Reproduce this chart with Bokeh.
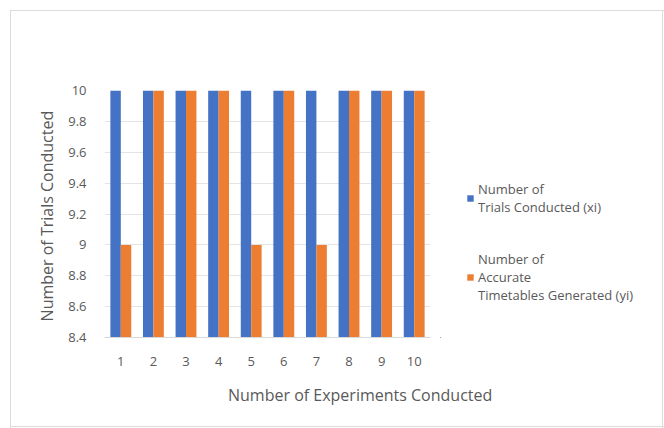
from bokeh.plotting import figure
from bokeh.layouts import row, column
from bokeh.models import FixedTicker, Legend, LegendItem, Div
from bokeh.transform import dodge
from bokeh.embed import file_html
from bokeh.resources import INLINE
from bokeh.models import ColumnDataSource

experiments = [1, 2, 3, 4, 5, 6, 7, 8, 9, 10]
trials = [10, 10, 10, 10, 10, 10, 10, 10, 10, 10]
accurate = [9, 10, 10, 10, 9, 10, 9, 10, 10, 10]
y_ticks = [8.4, 8.6, 8.8, 9.0, 9.2, 9.4, 9.6, 9.8, 10.0]
y_tick_labels = ["8.4", "8.6", "8.8", "9", "9.2", "9.4", "9.6", "9.8", "10"]
series_names = ["Number of\nTrials Conducted (xi)", "Number of\nAccurate\nTimetables Generated (yi)"]
x_title = "Number of Experiments Conducted"
y_title = "Number  of Trials Conducted"

BLUE = "#4472C4"
ORANGE = "#ED7D31"
GRAY = "#595959"
FONT = "Open Sans"

src = ColumnDataSource(dict(x=experiments, trials=trials, accurate=accurate))

p = figure(width=440, height=380, output_backend="svg", toolbar_location=None,
           x_range=(0.5, 10.5), y_range=(8.4, 10.0),
           min_border_left=104, min_border_right=10, min_border_top=90, min_border_bottom=43)
p.outline_line_color = None
p.background_fill_color = None
p.border_fill_color = None

p.vbar(x=dodge("x", -0.16, range=p.x_range), top="trials", bottom=8.4, width=0.32,
       source=src, fill_color=BLUE, line_color=None)
p.vbar(x=dodge("x", 0.16, range=p.x_range), top="accurate", bottom=8.4, width=0.32,
       source=src, fill_color=ORANGE, line_color=None)

p.xaxis.ticker = FixedTicker(ticks=experiments)
p.yaxis.ticker = FixedTicker(ticks=y_ticks)
p.yaxis.major_label_overrides = {t: l for t, l in zip(y_ticks, y_tick_labels)}
for ax in (p.xaxis[0], p.yaxis[0]):
    ax.major_tick_line_color = None
    ax.minor_tick_line_color = None
    ax.major_label_text_font = FONT
    ax.major_label_text_font_size = "13px"
    ax.major_label_text_color = GRAY
    ax.axis_label_text_font = FONT
    ax.axis_label_text_font_size = "16px"
    ax.axis_label_text_font_style = "normal"
    ax.axis_label_text_color = GRAY
p.yaxis.axis_line_color = None
p.xaxis.axis_line_color = "#d9d9d9"
p.yaxis.axis_label = y_title
p.xaxis.major_label_standoff = 13
p.yaxis.major_label_standoff = 12
p.yaxis.axis_label_standoff = 7

p.xgrid.grid_line_color = None
p.ygrid.grid_line_color = "#e4e4e4"

# legend panel: same series, drawn out of view so only the legend shows
pl = figure(width=224, height=380, output_backend="svg", toolbar_location=None,
            x_range=(100, 101), y_range=(100, 101),
            x_axis_location=None, y_axis_location=None,
            min_border_left=0, min_border_right=0, min_border_top=0, min_border_bottom=0)
pl.outline_line_color = None
pl.background_fill_color = None
pl.border_fill_color = None
pl.xgrid.visible = False
pl.ygrid.visible = False
l1 = pl.vbar(x="x", top="trials", bottom=8.4, width=0.32, source=src, fill_color=BLUE, line_color=None)
l2 = pl.vbar(x="x", top="accurate", bottom=8.4, width=0.32, source=src, fill_color=ORANGE, line_color=None)

legend = Legend(items=[LegendItem(label=series_names[0], renderers=[l1]),
                       LegendItem(label=series_names[1], renderers=[l2])],
                location=(26, 33))
legend.border_line_color = None
legend.background_fill_alpha = 0
legend.margin = 0
legend.padding = 0
legend.label_text_font = FONT
legend.label_text_font_size = "13px"
legend.label_text_color = GRAY
legend.glyph_width = 8
legend.glyph_height = 8
legend.spacing = 34
legend.label_standoff = 4
pl.add_layout(legend, "center")

xdiv = Div(text=x_title, width=664, height=48, margin=0,
           styles={"font-family": FONT, "font-size": "16px", "color": GRAY,
                   "padding-left": "228px", "padding-top": "5px", "line-height": "20px",
                   "white-space": "nowrap"})

frame_css = ("linear-gradient(#dcdcdc,#dcdcdc) 10px 10px / 654px 1px no-repeat, "
             "linear-gradient(#dcdcdc,#dcdcdc) 10px 10px / 1px 418px no-repeat, "
             "linear-gradient(#dcdcdc,#dcdcdc) 662px 10px / 1px 418px no-repeat, "
             "linear-gradient(#dcdcdc,#dcdcdc) 10px 426px / 654px 1px no-repeat, white")

layout = column(row(p, pl, spacing=0), xdiv, spacing=0, styles={"background": frame_css})
open("out.html", "w").write(file_html(layout, INLINE))
